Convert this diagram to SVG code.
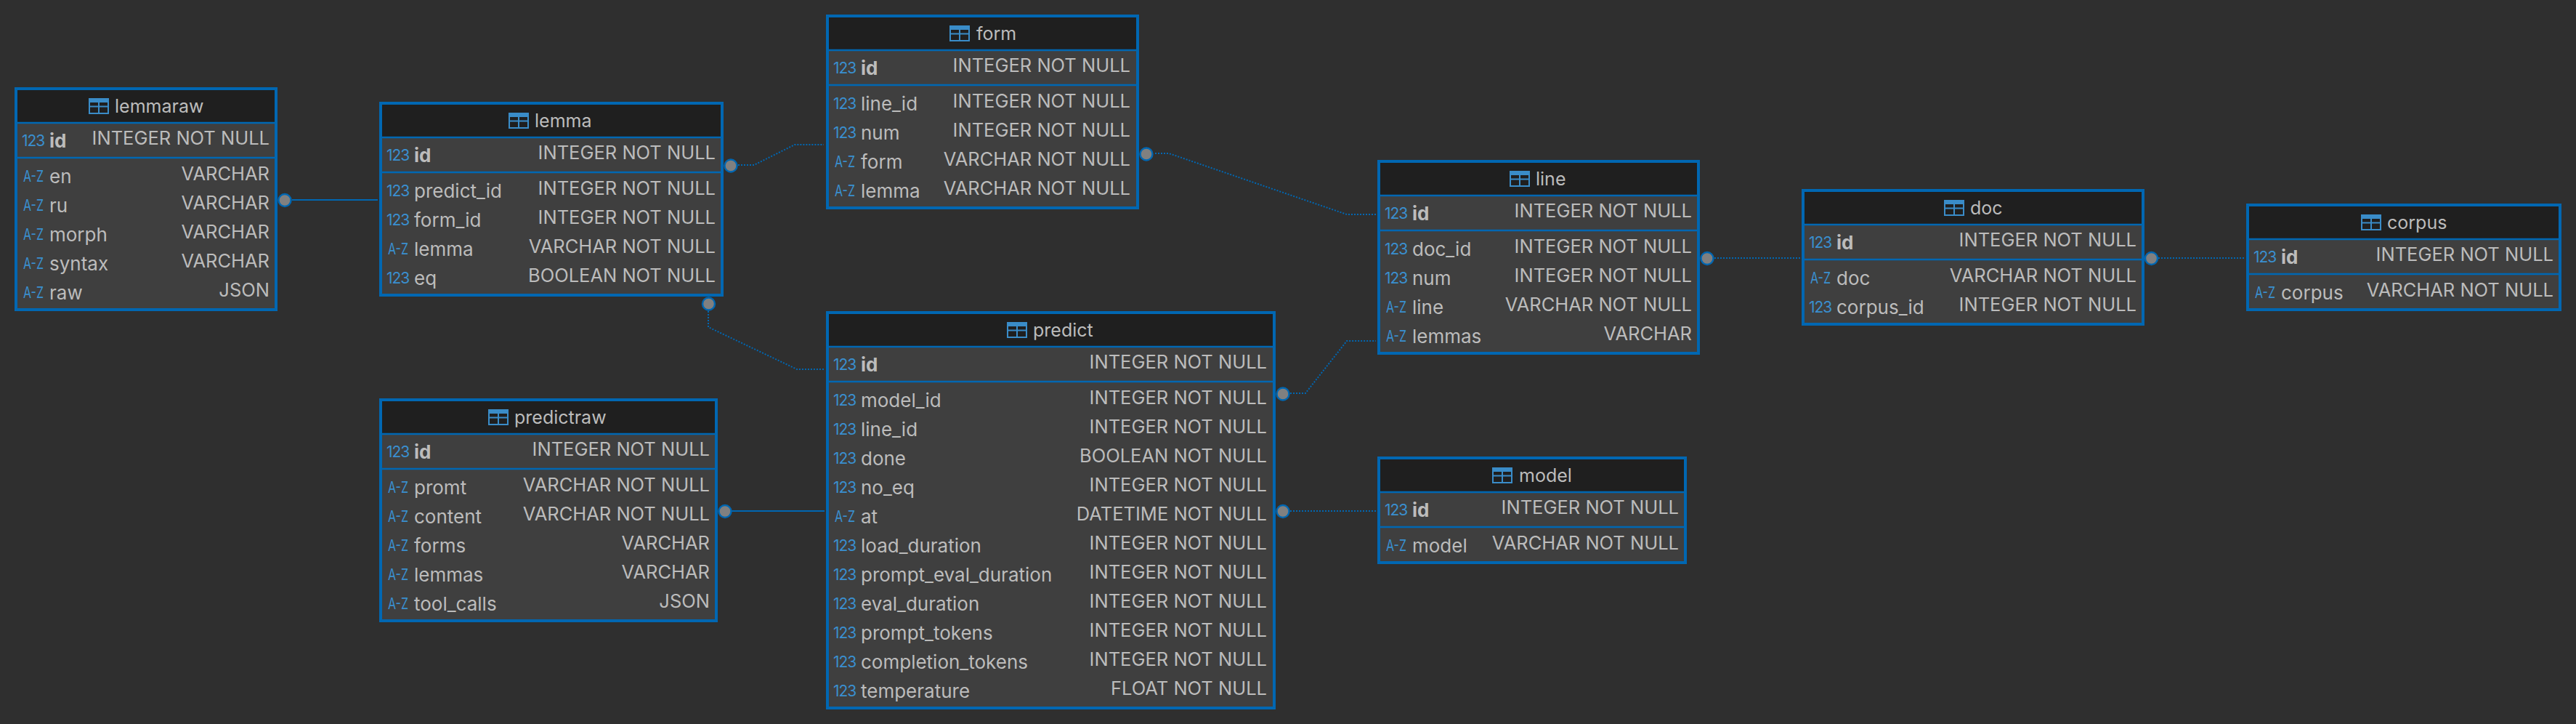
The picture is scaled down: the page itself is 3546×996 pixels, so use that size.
<svg xmlns="http://www.w3.org/2000/svg" xmlns:xlink="http://www.w3.org/1999/xlink" width="3546" height="996" viewBox="0 0 3546 996">
<style>
text{font-family:Inter,"Noto Sans",sans-serif;font-size:26px;fill:#bcbcbc}
.ti{font-size:25px}
.box{fill:#3f3f3f;stroke:#0067b2;stroke-width:4}
.head{fill:#1f1f1f}
.sep{stroke:#0067b2;stroke-width:2.4;fill:none}
.t{text-anchor:end;font-size:25.500px}
.b{font-weight:700}
.i{font-size:21px;fill:#3a8fcf;letter-spacing:-1px}
.az{font-size:21px;fill:#3a8fcf}
.ic{fill:none;stroke:#3a8cc8;stroke-width:2}
.ict{fill:#3a8cc8}
.c{fill:none;stroke:#0067b2;stroke-width:2}
.d{stroke-dasharray:2 2}
.dot{fill:#808080;stroke:#0067b2;stroke-width:2.4}
</style>
<defs>
<g id="tbl"><rect class="ict" x="0" y="0" width="28" height="6"/><rect class="ic" x="1" y="1" width="26" height="20"/><path class="ic" d="M14 1V21M1 11.500H27"/></g>
</defs>
<rect width="3546" height="996" fill="#2f2f2f"/>
<g id="connectors">
<path class="c" d="M402 275H520"/>
<path class="c" d="M998 703H1135"/>
<path class="c d" d="M1016 227H1038L1094 199H1134"/>
<path class="c d" d="M975 428V450L1097 508H1135"/>
<path class="c d" d="M1590 211H1609L1854 295H1894"/>
<path class="c d" d="M1776 541H1797L1854 469H1894"/>
<path class="c d" d="M1776 703H1894"/>
<path class="c d" d="M2360 355H2478"/>
<path class="c d" d="M2971 355H3090"/>
</g>
<g id="lemmaraw">
<rect class="box" x="22" y="122" width="358" height="304"/><rect class="head" x="24" y="124" width="354" height="44"/>
<path class="sep" d="M24 169H380M24 217H380"/>
<use xlink:href="#tbl" href="#tbl" x="122" y="135"/><text class="ti" x="158" y="155">lemmaraw</text>
<text class="i" x="30" y="201">123</text><text class="b" x="68" y="203">id</text><text class="t" x="371" y="199">INTEGER NOT NULL</text>
<text class="az" textLength="28" lengthAdjust="spacingAndGlyphs" x="32" y="250">A-Z</text><text x="68" y="252">en</text><text class="t" x="371" y="248">VARCHAR</text>
<text class="az" textLength="28" lengthAdjust="spacingAndGlyphs" x="32" y="290">A-Z</text><text x="68" y="292">ru</text><text class="t" x="371" y="288">VARCHAR</text>
<text class="az" textLength="28" lengthAdjust="spacingAndGlyphs" x="32" y="330">A-Z</text><text x="68" y="332">morph</text><text class="t" x="371" y="328">VARCHAR</text>
<text class="az" textLength="28" lengthAdjust="spacingAndGlyphs" x="32" y="370">A-Z</text><text x="68" y="372">syntax</text><text class="t" x="371" y="368">VARCHAR</text>
<text class="az" textLength="28" lengthAdjust="spacingAndGlyphs" x="32" y="410">A-Z</text><text x="68" y="412">raw</text><text class="t" x="371" y="408">JSON</text>
<circle class="dot" cx="392" cy="275.500" r="8.500"/>
</g>
<g id="lemma">
<rect class="box" x="524" y="142" width="470" height="264"/><rect class="head" x="526" y="144" width="466" height="44"/>
<path class="sep" d="M526 189H994M526 237H994"/>
<use xlink:href="#tbl" href="#tbl" x="700" y="155"/><text class="ti" x="736" y="175">lemma</text>
<text class="i" x="532" y="221">123</text><text class="b" x="570" y="223">id</text><text class="t" x="985" y="219">INTEGER NOT NULL</text>
<text class="i" x="532" y="270">123</text><text x="570" y="272">predict_id</text><text class="t" x="985" y="268">INTEGER NOT NULL</text>
<text class="i" x="532" y="310">123</text><text x="570" y="312">form_id</text><text class="t" x="985" y="308">INTEGER NOT NULL</text>
<text class="az" textLength="28" lengthAdjust="spacingAndGlyphs" x="534" y="350">A-Z</text><text x="570" y="352">lemma</text><text class="t" x="985" y="348">VARCHAR NOT NULL</text>
<text class="i" x="532" y="390">123</text><text x="570" y="392">eq</text><text class="t" x="985" y="388">BOOLEAN NOT NULL</text>
<circle class="dot" cx="1006" cy="228" r="8.500"/><circle class="dot" cx="975.500" cy="418" r="8.500"/>
</g>
<g id="form">
<rect class="box" x="1139" y="22" width="427" height="264"/><rect class="head" x="1141" y="24" width="423" height="44"/>
<path class="sep" d="M1141 69H1566M1141 117H1566"/>
<use xlink:href="#tbl" href="#tbl" x="1307" y="35"/><text class="ti" x="1344" y="55">form</text>
<text class="i" x="1147" y="101">123</text><text class="b" x="1185" y="103">id</text><text class="t" x="1556" y="99">INTEGER NOT NULL</text>
<text class="i" x="1147" y="150">123</text><text x="1185" y="152">line_id</text><text class="t" x="1556" y="148">INTEGER NOT NULL</text>
<text class="i" x="1147" y="190">123</text><text x="1185" y="192">num</text><text class="t" x="1556" y="188">INTEGER NOT NULL</text>
<text class="az" textLength="28" lengthAdjust="spacingAndGlyphs" x="1149" y="230">A-Z</text><text x="1185" y="232">form</text><text class="t" x="1556" y="228">VARCHAR NOT NULL</text>
<text class="az" textLength="28" lengthAdjust="spacingAndGlyphs" x="1149" y="270">A-Z</text><text x="1185" y="272">lemma</text><text class="t" x="1556" y="268">VARCHAR NOT NULL</text>
<circle class="dot" cx="1578" cy="212" r="8.500"/>
</g>
<g id="predict">
<rect class="box" x="1139" y="430" width="615" height="544"/><rect class="head" x="1141" y="432" width="611" height="44"/>
<path class="sep" d="M1141 477H1754M1141 525H1754"/>
<use xlink:href="#tbl" href="#tbl" x="1386" y="443"/><text class="ti" x="1422" y="463">predict</text>
<text class="i" x="1147" y="509">123</text><text class="b" x="1185" y="511">id</text><text class="t" x="1744" y="507">INTEGER NOT NULL</text>
<text class="i" x="1147" y="558">123</text><text x="1185" y="560">model_id</text><text class="t" x="1744" y="556">INTEGER NOT NULL</text>
<text class="i" x="1147" y="598">123</text><text x="1185" y="600">line_id</text><text class="t" x="1744" y="596">INTEGER NOT NULL</text>
<text class="i" x="1147" y="638">123</text><text x="1185" y="640">done</text><text class="t" x="1744" y="636">BOOLEAN NOT NULL</text>
<text class="i" x="1147" y="678">123</text><text x="1185" y="680">no_eq</text><text class="t" x="1744" y="676">INTEGER NOT NULL</text>
<text class="az" textLength="28" lengthAdjust="spacingAndGlyphs" x="1149" y="718">A-Z</text><text x="1185" y="720">at</text><text class="t" x="1744" y="716">DATETIME NOT NULL</text>
<text class="i" x="1147" y="758">123</text><text x="1185" y="760">load_duration</text><text class="t" x="1744" y="756">INTEGER NOT NULL</text>
<text class="i" x="1147" y="798">123</text><text x="1185" y="800">prompt_eval_duration</text><text class="t" x="1744" y="796">INTEGER NOT NULL</text>
<text class="i" x="1147" y="838">123</text><text x="1185" y="840">eval_duration</text><text class="t" x="1744" y="836">INTEGER NOT NULL</text>
<text class="i" x="1147" y="878">123</text><text x="1185" y="880">prompt_tokens</text><text class="t" x="1744" y="876">INTEGER NOT NULL</text>
<text class="i" x="1147" y="918">123</text><text x="1185" y="920">completion_tokens</text><text class="t" x="1744" y="916">INTEGER NOT NULL</text>
<text class="i" x="1147" y="958">123</text><text x="1185" y="960">temperature</text><text class="t" x="1744" y="956">FLOAT NOT NULL</text>
<circle class="dot" cx="1766" cy="542" r="8.500"/><circle class="dot" cx="1766" cy="703.500" r="8.500"/>
</g>
<g id="predictraw">
<rect class="box" x="524" y="550" width="462" height="304"/><rect class="head" x="526" y="552" width="458" height="44"/>
<path class="sep" d="M526 597H986M526 645H986"/>
<use xlink:href="#tbl" href="#tbl" x="672" y="563"/><text class="ti" x="708" y="583">predictraw</text>
<text class="i" x="532" y="629">123</text><text class="b" x="570" y="631">id</text><text class="t" x="977" y="627">INTEGER NOT NULL</text>
<text class="az" textLength="28" lengthAdjust="spacingAndGlyphs" x="534" y="678">A-Z</text><text x="570" y="680">promt</text><text class="t" x="977" y="676">VARCHAR NOT NULL</text>
<text class="az" textLength="28" lengthAdjust="spacingAndGlyphs" x="534" y="718">A-Z</text><text x="570" y="720">content</text><text class="t" x="977" y="716">VARCHAR NOT NULL</text>
<text class="az" textLength="28" lengthAdjust="spacingAndGlyphs" x="534" y="758">A-Z</text><text x="570" y="760">forms</text><text class="t" x="977" y="756">VARCHAR</text>
<text class="az" textLength="28" lengthAdjust="spacingAndGlyphs" x="534" y="798">A-Z</text><text x="570" y="800">lemmas</text><text class="t" x="977" y="796">VARCHAR</text>
<text class="az" textLength="28" lengthAdjust="spacingAndGlyphs" x="534" y="838">A-Z</text><text x="570" y="840">tool_calls</text><text class="t" x="977" y="836">JSON</text>
<circle class="dot" cx="998" cy="703.500" r="8.500"/>
</g>
<g id="line">
<rect class="box" x="1898" y="222" width="440" height="264"/><rect class="head" x="1900" y="224" width="436" height="44"/>
<path class="sep" d="M1900 269H2338M1900 317H2338"/>
<use xlink:href="#tbl" href="#tbl" x="2078" y="235"/><text class="ti" x="2114" y="255">line</text>
<text class="i" x="1906" y="301">123</text><text class="b" x="1944" y="303">id</text><text class="t" x="2329" y="299">INTEGER NOT NULL</text>
<text class="i" x="1906" y="350">123</text><text x="1944" y="352">doc_id</text><text class="t" x="2329" y="348">INTEGER NOT NULL</text>
<text class="i" x="1906" y="390">123</text><text x="1944" y="392">num</text><text class="t" x="2329" y="388">INTEGER NOT NULL</text>
<text class="az" textLength="28" lengthAdjust="spacingAndGlyphs" x="1908" y="430">A-Z</text><text x="1944" y="432">line</text><text class="t" x="2329" y="428">VARCHAR NOT NULL</text>
<text class="az" textLength="28" lengthAdjust="spacingAndGlyphs" x="1908" y="470">A-Z</text><text x="1944" y="472">lemmas</text><text class="t" x="2329" y="468">VARCHAR</text>
<circle class="dot" cx="2350" cy="355.500" r="8.500"/>
</g>
<g id="model">
<rect class="box" x="1898" y="630" width="422" height="144"/><rect class="head" x="1900" y="632" width="418" height="44"/>
<path class="sep" d="M1900 677H2320M1900 725H2320"/>
<use xlink:href="#tbl" href="#tbl" x="2054" y="643"/><text class="ti" x="2091" y="663">model</text>
<text class="i" x="1906" y="709">123</text><text class="b" x="1944" y="711">id</text><text class="t" x="2311" y="707">INTEGER NOT NULL</text>
<text class="az" textLength="28" lengthAdjust="spacingAndGlyphs" x="1908" y="758">A-Z</text><text x="1944" y="760">model</text><text class="t" x="2311" y="756">VARCHAR NOT NULL</text>
</g>
<g id="doc">
<rect class="box" x="2482" y="262" width="468" height="184"/><rect class="head" x="2484" y="264" width="464" height="44"/>
<path class="sep" d="M2484 309H2950M2484 357H2950"/>
<use xlink:href="#tbl" href="#tbl" x="2676" y="275"/><text class="ti" x="2712" y="295">doc</text>
<text class="i" x="2490" y="341">123</text><text class="b" x="2528" y="343">id</text><text class="t" x="2941" y="339">INTEGER NOT NULL</text>
<text class="az" textLength="28" lengthAdjust="spacingAndGlyphs" x="2492" y="390">A-Z</text><text x="2528" y="392">doc</text><text class="t" x="2941" y="388">VARCHAR NOT NULL</text>
<text class="i" x="2490" y="430">123</text><text x="2528" y="432">corpus_id</text><text class="t" x="2941" y="428">INTEGER NOT NULL</text>
<circle class="dot" cx="2961.500" cy="355.500" r="8.500"/>
</g>
<g id="corpus">
<rect class="box" x="3094" y="282" width="430" height="144"/><rect class="head" x="3096" y="284" width="426" height="44"/>
<path class="sep" d="M3096 329H3524M3096 377H3524"/>
<use xlink:href="#tbl" href="#tbl" x="3250" y="295"/><text class="ti" x="3286" y="315">corpus</text>
<text class="i" x="3102" y="361">123</text><text class="b" x="3140" y="363">id</text><text class="t" x="3515" y="359">INTEGER NOT NULL</text>
<text class="az" textLength="28" lengthAdjust="spacingAndGlyphs" x="3104" y="410">A-Z</text><text x="3140" y="412">corpus</text><text class="t" x="3515" y="408">VARCHAR NOT NULL</text>
</g>
</svg>
